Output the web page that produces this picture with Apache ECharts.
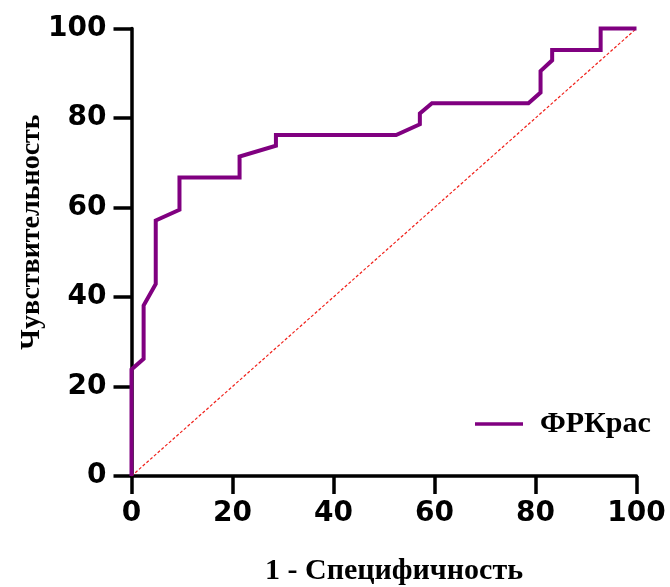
<!DOCTYPE html>
<html>
<head>
<meta charset="utf-8">
<script src="https://cdn.jsdelivr.net/npm/echarts@6/dist/echarts.min.js"></script>
<style>
  html, body { margin: 0; padding: 0; background: #ffffff; }
  #chart { width: 670px; height: 587px; }
</style>
</head>
<body>
<div id="chart"></div>
<script>
// ROC curve for ФРКрас: 1 - specificity (%) against sensitivity (%)
const oneMinusSpecificity = [0, 0, 2.4, 2.4, 4.8, 4.8, 9.5, 9.5, 21.4, 21.4, 28.6, 28.6, 52.4, 57.1, 57.1, 59.5, 78.6, 81.0, 81.0, 83.3, 83.3, 92.9, 92.9, 100];
const sensitivity        = [0, 23.8, 26.2, 38.1, 42.9, 57.1, 59.5, 66.7, 66.7, 71.4, 73.8, 76.2, 76.2, 78.6, 81.0, 83.3, 83.3, 85.7, 90.5, 92.9, 95.2, 95.2, 100, 100];

// reference line of a random classifier
const chanceX = [0, 100];
const chanceY = [0, 100];

const axisTicks = [0, 20, 40, 60, 80, 100];
const seriesName = 'ФРКрас';
const xTitle = '1 - Специфичность';
const yTitle = 'Чувствительность';

const zip = (xs, ys) => xs.map((x, i) => [x, ys[i]]);

const tickFont = { color: '#000', fontFamily: 'DejaVu Sans', fontWeight: 'bold', fontSize: 28 };
const axisLine = { show: true, lineStyle: { color: '#000', width: 3.5 } };
const axisTick = { show: true, length: 18, lineStyle: { color: '#000', width: 3.5 } };

const chart = echarts.init(document.getElementById('chart'), null, { renderer: 'canvas' });
chart.setOption({
  backgroundColor: '#ffffff',
  animation: false,
  grid: { left: 131.5, top: 28.5, width: 505, height: 447.5, containLabel: false },
  xAxis: {
    type: 'value', min: axisTicks[0], max: axisTicks[axisTicks.length - 1], interval: 20,
    axisLine: axisLine, axisTick: axisTick,
    axisLabel: Object.assign({ margin: 24 }, tickFont),
    splitLine: { show: false }
  },
  yAxis: {
    type: 'value', min: axisTicks[0], max: axisTicks[axisTicks.length - 1], interval: 20,
    axisLine: axisLine, axisTick: axisTick,
    axisLabel: Object.assign({ margin: 25 }, tickFont),
    splitLine: { show: false }
  },
  legend: {
    data: [seriesName],
    left: 470, top: 404,
    icon: 'rect', itemWidth: 48, itemHeight: 3.5,
    textStyle: { color: '#000', fontFamily: 'Liberation Serif', fontWeight: 'bold', fontSize: 30, padding: [0, 0, 0, 12] }
  },
  graphic: [
    {
      type: 'text', x: 394, y: 571,
      style: { text: xTitle, textAlign: 'center', textVerticalAlign: 'middle',
               fill: '#000', font: 'bold 30px "Liberation Serif"' }
    },
    {
      type: 'text', x: 31.5, y: 232, rotation: Math.PI / 2,
      style: { text: yTitle, textAlign: 'center', textVerticalAlign: 'middle',
               fill: '#000', font: 'bold 28px "Liberation Serif"' }
    }
  ],
  series: [
    {
      name: 'chance', type: 'line', data: zip(chanceX, chanceY),
      showSymbol: false, silent: true, clip: false, z: 1,
      lineStyle: { color: '#F0201A', width: 1.2, type: [3, 2] }
    },
    {
      name: seriesName, type: 'line', data: zip(oneMinusSpecificity, sensitivity),
      showSymbol: false, clip: false, z: 3,
      color: '#800080',
      lineStyle: { color: '#800080', width: 4, join: 'miter' }
    }
  ]
});
</script>
</body>
</html>
